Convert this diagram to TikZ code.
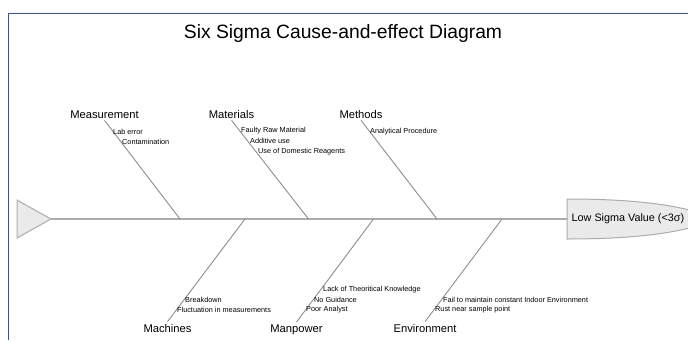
\documentclass[tikz,border=0pt]{standalone}
\usepackage{fontspec}
\setmainfont{Liberation Sans}
\definecolor{frameblue}{RGB}{55, 85, 165}
\definecolor{spinegray}{RGB}{172, 172, 172}
\definecolor{bonegray}{RGB}{140, 140, 140}
\definecolor{headfill}{RGB}{234, 234, 234}
\usetikzlibrary{positioning}

\begin{document}
\begin{tikzpicture}[x=1pt, y=-1pt,
        cat/.style={font=\fontsize{11.2}{12}\selectfont, inner sep=2pt},
        cause/.style={font=\fontsize{7.3}{8}\selectfont, anchor=west, inner sep=0pt},
        bone/.style={draw=bonegray, line width=0.9pt}]
        \useasboundingbox (0,0) rectangle (688,340);
        \clip (0,0) rectangle (688,340);

        % frame
        \draw[frameblue, line width=1.6pt] (8.5,340) -- (8.5,13.5) -- (688,13.5);
        \node[font=\fontsize{19.3}{22}\selectfont] (title) at (343,34) {Six Sigma Cause-and-effect Diagram};

        % tail, spine and head
        \draw[spinegray, fill=headfill, line width=1pt] (17,200) -- (51,219) -- (17,238) -- cycle;
        \coordinate (tail) at (51,219);
        \coordinate (head) at (567,219);
        \draw[spinegray, fill=headfill, line width=1pt]
            (567,199) .. controls (645,199) and (690,207) .. (715,219)
            .. controls (690,231) and (645,239) .. (567,239) -- cycle;
        \draw[spinegray, line width=2.4pt] (tail) -- (head);
        \node[font=\fontsize{10.8}{12}\selectfont, anchor=west, inner sep=0pt] (effect) at (571.5,219) {Low Sigma Value (<3σ)};

        % categories
        \foreach \name/\x/\y/\txt in {meas/104.5/118/Measurement, mat/231.5/118/Materials, meth/361/118/Methods,
                                      mach/167.5/332/Machines, man/296.5/332/Manpower, env/425/332/Environment}
            \node[cat, anchor=base] (\name) at (\x,\y) {\txt};

        % bones
        \foreach \name/\x in {meas/180, mat/308.5, meth/437} {
            \coordinate (\name-s) at (\x,219);
            \draw[bone] (\name.south) -- (\name-s);
        }
        \foreach \name/\x in {mach/245, man/373.5, env/502} {
            \coordinate (\name-s) at (\x,219);
            \draw[bone] (\name-s) -- (\name.north);
        }

        % causes
        \foreach \name/\x/\y/\txt in {c1/113/132/Lab error, c2/122/142/Contamination,
                                      c3/241/131/Faulty Raw Material, c4/250/141/Additive use, c5/258/152/Use of Domestic Reagents,
                                      c6/370/132/Analytical Procedure,
                                      c7/185/300/Breakdown, c8/177/310/Fluctuation in measurements,
                                      c9/323/290/Lack of Theoritical Knowledge, c10/314/300/No Guidance, c11/306/310/Poor Analyst,
                                      c12/443/300/Fail to maintain constant Indoor Environment, c13/435/310/Rust near sample point}
            \node[cause] (\name) at (\x,\y) {\txt};
    \end{tikzpicture}
\end{document}
